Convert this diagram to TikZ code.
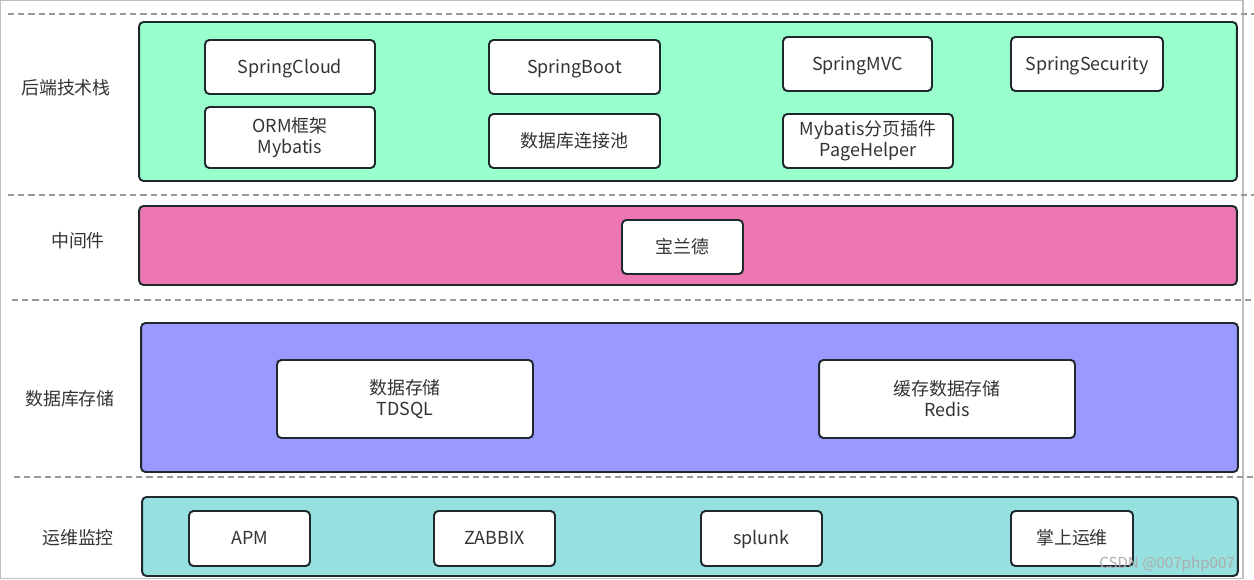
\documentclass[tikz,border=0pt]{standalone}
\usepackage{fontspec}
\setmainfont{Noto Sans CJK SC}
\usetikzlibrary{positioning}

\definecolor{layergreen}{RGB}{153,255,204}
\definecolor{layerpink}{RGB}{236,118,178}
\definecolor{layerblue}{RGB}{153,153,255}
\definecolor{layercyan}{RGB}{150,224,224}
\definecolor{edgedark}{RGB}{30,40,45}
\definecolor{textdark}{RGB}{51,51,51}

\begin{document}
\begin{tikzpicture}[x=0.02cm, y=-0.02cm, font=\fontsize{10.2pt}{12pt}\selectfont, text=textdark,
    layer/.style={rectangle, rounded corners=2.5pt, draw=edgedark, line width=1.1pt, minimum width=21.96cm},
    item/.style={rectangle, rounded corners=2.5pt, draw=edgedark, line width=1.1pt, fill=white, minimum height=1.08cm, align=center},
    oneline/.style={text height=0.8em, text depth=0.08em},
    sep/.style={draw=gray!80, line width=0.8pt, dash pattern=on 3.5pt off 2.3pt}]
    \useasboundingbox (0,0) rectangle (1254,580);
    % Frame
    \draw[gray!50, line width=0.6pt] (0.5,0.5) rectangle (1243,578.5);

    % Separators
    \draw[sep] (8,14) -- (1254,14);
    \draw[sep] (8,195) -- (1254,195);
    \draw[sep] (12,300) -- (1254,300);
    \draw[sep] (14,477) -- (1254,477);

    % Backend Layer
    \node[layer, fill=layergreen, minimum height=3.18cm] (backend) at (688,101.5) {};
    \node[oneline] (backendlabel) at (66,88) {后端技术栈};
    \node[item, oneline, minimum width=3.4cm] (cloud) at (290,67) {SpringCloud};
    \node[item, oneline, minimum width=3.42cm] (boot) at (574.5,67) {SpringBoot};
    \node[item, oneline, minimum width=2.98cm] (mvc) at (857.5,64) {SpringMVC};
    \node[item, oneline, minimum width=3.04cm] (security) at (1087,64) {SpringSecurity};
    \node[item, minimum width=3.4cm, minimum height=1.22cm] (orm) at (290,137.5) {ORM框架\\Mybatis};
    \node[item, oneline, minimum width=3.42cm] (pool) at (574.5,141) {数据库连接池};
    \node[item, minimum width=3.4cm] (pagehelper) at (868,141) {Mybatis分页插件\\PageHelper};

    % Middleware Layer
    \node[layer, fill=layerpink, minimum height=1.58cm] (middleware) at (688,245.5) {};
    \node[oneline] (middlewarelabel) at (78,241) {中间件};
    \node[item, oneline, minimum width=2.42cm] (bes) at (682.5,247) {宝兰德};

    % Database Layer
    \node[layer, fill=layerblue, minimum width=21.94cm, minimum height=2.98cm] (database) at (689.5,397.5) {};
    \node[oneline] (databaselabel) at (70,399) {数据库存储};
    \node[item, minimum width=5.12cm, minimum height=1.56cm] (tdsql) at (405,399) {数据存储\\TDSQL};
    \node[item, minimum width=5.12cm, minimum height=1.56cm] (redis) at (947,399) {缓存数据存储\\Redis};

    % Ops Layer
    \node[layer, fill=layercyan, minimum width=21.92cm, minimum height=1.58cm] (ops) at (690,536.5) {};
    \node[oneline] (opslabel) at (78,538) {运维监控};
    \node[item, oneline, minimum width=2.42cm, minimum height=1.1cm] (apm) at (249.5,538.5) {APM};
    \node[item, oneline, minimum width=2.42cm, minimum height=1.1cm] (zabbix) at (494.5,538.5) {ZABBIX};
    \node[item, oneline, minimum width=2.42cm, minimum height=1.1cm] (splunk) at (761.5,538.5) {splunk};
    \node[item, oneline, minimum width=2.44cm, minimum height=1.1cm] (mobileops) at (1072,538.5) {掌上运维};

    % Watermark
    \node[text=gray!65, font=\fontsize{8.6pt}{10pt}\selectfont, anchor=east, oneline] (mark) at (1241,562) {CSDN @007php007};
\end{tikzpicture}
\end{document}
